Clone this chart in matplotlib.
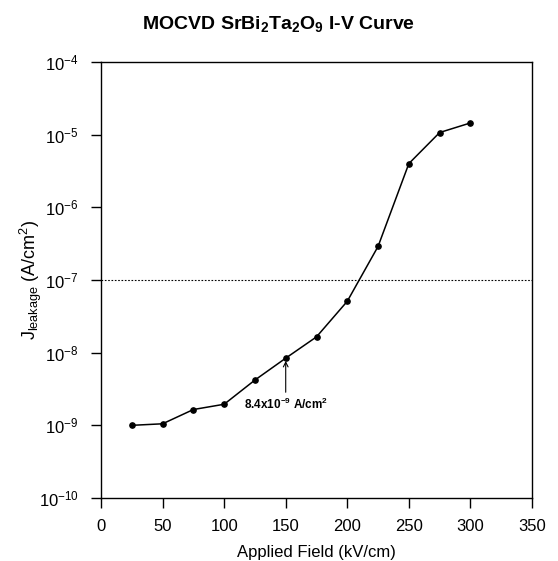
import matplotlib
matplotlib.use("Agg")
import matplotlib.pyplot as plt
from matplotlib.ticker import FixedLocator, NullLocator

plt.rcParams['font.family'] = ['Liberation Sans', 'DejaVu Sans']
plt.rcParams['mathtext.fontset'] = 'custom'
plt.rcParams['mathtext.rm'] = 'Liberation Sans'
plt.rcParams['mathtext.it'] = 'Liberation Sans'
plt.rcParams['mathtext.bf'] = 'Liberation Sans:bold'
plt.rcParams['mathtext.default'] = 'regular'

field = [25, 50, 75, 100, 125, 150, 175, 200, 225, 250, 275, 300]
current = [1.0e-9, 1.05e-9, 1.65e-9, 1.95e-9, 4.2e-9, 8.4e-9, 1.65e-8, 5.1e-8,
           2.9e-7, 4.0e-6, 1.07e-5, 1.45e-5]
threshold = 1e-7
x_ticks = [0, 50, 100, 150, 200, 250, 300, 350]
y_ticks = [1e-10, 1e-9, 1e-8, 1e-7, 1e-6, 1e-5, 1e-4]
y_tick_labels = [r'$10^{-10}$', r'$10^{-9}$', r'$10^{-8}$', r'$10^{-7}$',
                 r'$10^{-6}$', r'$10^{-5}$', r'$10^{-4}$']
annot_point = (150, 8.4e-9)
annot_text_pos = (150, 2.5e-9)

fig = plt.figure(figsize=(5.58, 5.61), dpi=100)
ax = fig.add_axes([101/558, 1 - 498/561, (532 - 101)/558, (498 - 62)/561])

ax.plot(field, current, color='black', lw=1.1, marker='o', ms=3.8)
ax.axhline(threshold, color='black', lw=0.8, ls=(0, (1.5, 1.5)))

ax.set_yscale('log')
ax.set_xlim(0, 350)
ax.set_ylim(1e-10, 1e-4)
ax.xaxis.set_major_locator(FixedLocator(x_ticks))
ax.yaxis.set_major_locator(FixedLocator(y_ticks))
ax.set_yticklabels(y_tick_labels)
ax.yaxis.set_minor_locator(NullLocator())
ax.tick_params(axis='both', which='major', direction='out', length=7, width=1,
               labelsize=12, top=False, right=False)
ax.tick_params(axis='x', pad=8)
ax.tick_params(axis='y', pad=9)
for s in ax.spines.values():
    s.set_linewidth(1.0)

ax.set_xlabel('Applied Field (kV/cm)', fontsize=12, labelpad=8)
ax.set_ylabel(r'J$_{leakage}$ (A/cm$^2$)', fontsize=13, va='center')
ax.yaxis.set_label_coords(-0.162, 0.5)

ax.annotate(r'8.4x10$^{-9}$ A/cm$^2$', xy=annot_point, xytext=annot_text_pos,
            fontsize=8.5, fontweight='bold', ha='center', va='top',
            arrowprops=dict(arrowstyle='->', color='black', lw=0.8,
                            shrinkA=1, shrinkB=2))

fig.suptitle(r'MOCVD SrBi$_2$Ta$_2$O$_9$ I-V Curve', x=0.5, y=0.975,
             fontsize=14, fontweight='bold')

fig.savefig('out.png', dpi=100)
